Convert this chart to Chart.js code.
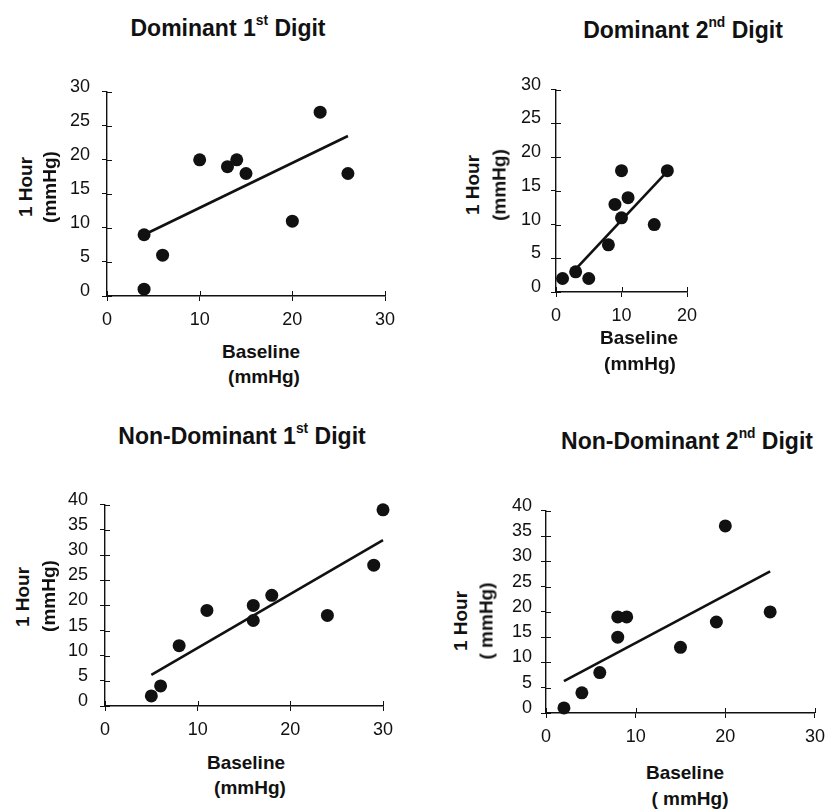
<!DOCTYPE html>
<html>
<head>
<meta charset="utf-8">
<script src="https://cdn.jsdelivr.net/npm/chart.js@4/dist/chart.umd.min.js"></script>
<style>
  html, body { margin: 0; padding: 0; background: #fff; overflow: hidden; width: 833px; height: 809px; }
  canvas { position: absolute; }
  .t { position: absolute; white-space: nowrap; font-family: "Liberation Sans", Arial, sans-serif; font-weight: bold; color: #111; transform: translate(-50%, -50%); line-height: 1; }
  .title { font-size: 23px; }
  .ax { font-size: 19px; }
  .rot { transform: translate(-50%, -50%) rotate(-90deg); }
  sup { font-size: 0.6em; line-height: 0; vertical-align: 0.75em; }
</style>
</head>
<body>
<script>
// ---- data ----
const domFirstBaseline = [4, 4, 6, 10, 13, 14, 15, 20, 23, 26];
const domFirstOneHour  = [9, 1, 6, 20, 19, 20, 18, 11, 27, 18];
const domFirstFitX = [4, 26];
const domFirstFitY = [9, 23.5];

const domSecondBaseline = [1, 3, 5, 8, 9, 10, 10, 11, 15, 17];
const domSecondOneHour  = [2, 3, 2, 7, 13, 18, 11, 14, 10, 18];
const domSecondFitX = [3, 17];
const domSecondFitY = [3.4, 17.9];

const nonDomFirstBaseline = [5, 6, 8, 11, 16, 16, 18, 24, 29, 30];
const nonDomFirstOneHour  = [2, 4, 12, 19, 20, 17, 22, 18, 28, 39];
const nonDomFirstFitX = [5, 30];
const nonDomFirstFitY = [6.2, 33];

const nonDomSecondBaseline = [2, 4, 6, 8, 8, 9, 15, 19, 20, 25];
const nonDomSecondOneHour  = [1, 4, 8, 15, 19, 19, 13, 18, 37, 20];
const nonDomSecondFitX = [2, 25];
const nonDomSecondFitY = [6.3, 28];

const xTicksTop1 = [0, 10, 20, 30];
const xTicksTop2 = [0, 10, 20];
const yTicks30 = [0, 5, 10, 15, 20, 25, 30];
const yTicks40 = [0, 5, 10, 15, 20, 25, 30, 35, 40];

// ---- helpers ----
const INK = '#111';
const toPts = (xs, ys) => xs.map((x, i) => ({ x: x, y: ys[i] }));

const crossTicks = {
  id: 'crossTicks',
  afterDraw(chart) {
    const { ctx, chartArea, scales } = chart;
    ctx.save();
    ctx.strokeStyle = INK;
    ctx.lineWidth = 1;
    ctx.beginPath();
    scales.y.ticks.forEach(t => {
      const py = Math.round(scales.y.getPixelForValue(t.value)) + 0.5;
      ctx.moveTo(chartArea.left, py); ctx.lineTo(chartArea.left + 5, py);
    });
    scales.x.ticks.forEach(t => {
      const px = Math.round(scales.x.getPixelForValue(t.value)) + 0.5;
      ctx.moveTo(px, chartArea.bottom); ctx.lineTo(px, chartArea.bottom - 5);
    });
    ctx.stroke();
    ctx.restore();
  }
};

function makePanel(cfg) {
  const YW = 60, PT = 12, XH = 40;
  const PR = cfg.pr;
  const c = document.createElement('canvas');
  const w = YW + (cfg.R - cfg.L) + PR;
  const h = PT + (cfg.B - cfg.T) + XH;
  c.width = w; c.height = h;
  c.style.left = (cfg.L - YW) + 'px';
  c.style.top = (cfg.T - PT) + 'px';
  c.style.width = w + 'px'; c.style.height = h + 'px';
  document.body.appendChild(c);
  const tickFont = { family: '"Liberation Sans", Arial, sans-serif', size: 18 };
  new Chart(c.getContext('2d'), {
    type: 'scatter',
    data: {
      datasets: [
        { type: 'scatter', data: toPts(cfg.xs, cfg.ys), pointRadius: 6.5, pointHoverRadius: 6.5,
          backgroundColor: INK, borderColor: INK, borderWidth: 0, clip: false, order: 1 },
        { type: 'line', data: toPts(cfg.fx, cfg.fy), borderColor: INK, borderWidth: 2.6,
          pointRadius: 0, fill: false, tension: 0, clip: false, order: 2 }
      ]
    },
    options: {
      animation: false, responsive: false, devicePixelRatio: 1,
      layout: { padding: { left: 0, top: PT, right: PR, bottom: 0 } },
      plugins: { legend: { display: false }, tooltip: { enabled: false } },
      scales: {
        x: {
          type: 'linear', min: 0, max: cfg.xmax,
          afterBuildTicks(s) { s.ticks = cfg.xt.map(v => ({ value: v })); },
          afterFit(s) { s.height = XH; },
          ticks: { font: tickFont, color: INK, padding: 8 },
          grid: { drawOnChartArea: false, tickLength: 5, color: INK, lineWidth: 1 },
          border: { color: INK, width: 1.4 }
        },
        y: {
          type: 'linear', min: 0, max: cfg.ymax,
          afterBuildTicks(s) { s.ticks = cfg.yt.map(v => ({ value: v })); },
          afterFit(s) { s.width = YW; },
          ticks: { font: tickFont, color: INK, padding: cfg.yPad, labelOffset: -5 },
          grid: { drawOnChartArea: false, tickLength: 5, color: INK, lineWidth: 1 },
          border: { color: INK, width: 1.4 }
        }
      }
    },
    plugins: [crossTicks]
  });
}

makePanel({ L: 107, R: 385, T: 81, B: 296, pr: 20, xmax: 30, ymax: 30, xt: xTicksTop1, yt: yTicks30, yPad: 12,
  xs: domFirstBaseline, ys: domFirstOneHour, fx: domFirstFitX, fy: domFirstFitY });
makePanel({ L: 556, R: 687, T: 81, B: 292, pr: 20, xmax: 20, ymax: 30, xt: xTicksTop2, yt: yTicks30, yPad: 10,
  xs: domSecondBaseline, ys: domSecondOneHour, fx: domSecondFitX, fy: domSecondFitY });
makePanel({ L: 105, R: 383, T: 494, B: 706, pr: 20, xmax: 30, ymax: 40, xt: xTicksTop1, yt: yTicks40, yPad: 12,
  xs: nonDomFirstBaseline, ys: nonDomFirstOneHour, fx: nonDomFirstFitX, fy: nonDomFirstFitY });
makePanel({ L: 546, R: 823, T: 503, B: 713, pr: 10, xmax: 30, ymax: 40, xt: xTicksTop1, yt: yTicks40, yPad: 9,
  xs: nonDomSecondBaseline, ys: nonDomSecondOneHour, fx: nonDomSecondFitX, fy: nonDomSecondFitY });

// ---- text labels ----
const labels = [
  ['title', 228, 28, 'Dominant 1<sup>st</sup> Digit'],
  ['title', 683, 30, 'Dominant 2<sup>nd</sup> Digit'],
  ['title', 242, 436, 'Non-Dominant 1<sup>st</sup> Digit'],
  ['title', 687, 441, 'Non-Dominant 2<sup>nd</sup> Digit'],
  ['ax', 261, 351, 'Baseline'], ['ax', 264, 376, '(mmHg)'],
  ['ax', 639, 337, 'Baseline'], ['ax', 640, 363, '(mmHg)'],
  ['ax', 246, 762, 'Baseline'], ['ax', 250, 787, '(mmHg)'],
  ['ax', 685, 772, 'Baseline'], ['ax', 690, 798, '( mmHg)'],
  ['ax rot', 25, 187, '1 Hour'], ['ax rot', 49, 187, '(mmHg)'],
  ['ax rot', 472, 185, '1 Hour'], ['ax rot', 499, 185, '(mmHg)'],
  ['ax rot', 22, 597, '1 Hour'], ['ax rot', 48, 596, '(mmHg)'],
  ['ax rot', 460, 621, '1 Hour'], ['ax rot', 486, 621, '( mmHg)']
];
labels.forEach(([cls, x, y, html]) => {
  const d = document.createElement('div');
  d.className = 't ' + cls;
  d.style.left = x + 'px'; d.style.top = y + 'px';
  d.innerHTML = html;
  document.body.appendChild(d);
});
</script>
</body>
</html>
